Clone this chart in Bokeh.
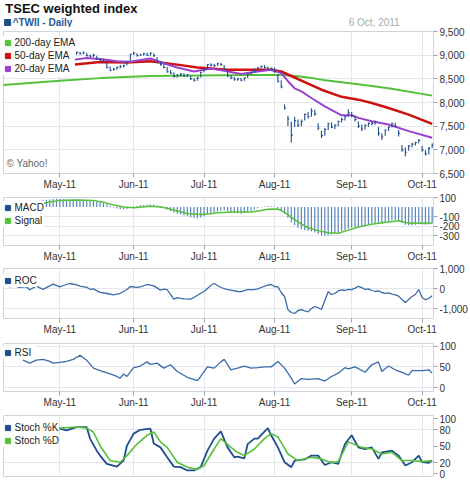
import numpy as np
import pandas as pd
from bokeh.plotting import figure
from bokeh.layouts import column
from bokeh.models import (Range1d, FixedTicker, Legend, LegendItem,
                          NumeralTickFormatter, Label)
from bokeh.embed import file_html
from bokeh.resources import INLINE
from bokeh.core.properties import value

FONT = "Liberation Sans"

# ---------------------------------------------------------------- calendar
# TWSE trading sessions, 7 Apr - 6 Oct 2011 (exchange closed 6 Jun and 12 Sep)
holidays = {"2011-06-06", "2011-09-12"}
dates = [d for d in pd.bdate_range("2011-04-07", "2011-10-06")
         if d.strftime("%Y-%m-%d") not in holidays]
idx = list(range(len(dates)))
month_ticks = [i for i in idx[1:] if dates[i].month != dates[i - 1].month]
month_labels = ["May-11", "Jun-11", "Jul-11", "Aug-11", "Sep-11", "Oct-11"]
month_overrides = {t: lab for t, lab in zip(month_ticks, month_labels)}

# ---------------------------------------------------------------- daily prices
close = [8880, 8850, 8900, 8780, 8720, 8700, 8740, 8690, 8620, 8750, 8820, 8830, 8860, 8880, 8900, 8920, 9010,
         9030, 9060, 9020, 9040, 9010, 9060, 9030, 9050, 8990, 8980, 9000, 8920, 8900, 8870, 8740, 8680, 8700,
         8740, 8760, 8780, 8860, 9020,
         9040, 8990, 9010, 9030, 9000, 9040, 8990, 8850, 8800, 8740, 8650, 8620, 8550, 8570, 8600, 8560, 8580,
         8500, 8470, 8520, 8640,
         8700, 8800, 8790, 8780, 8820, 8800, 8700, 8560, 8520, 8480, 8500, 8470, 8520, 8600, 8630, 8700, 8730,
         8760, 8740, 8710, 8720,
         8650, 8450, 8330, 7880, 7650, 7310, 7620, 7520, 7600, 7750, 7700, 7820, 7760, 7460, 7300, 7430, 7550,
         7480, 7520, 7600, 7640, 7700, 7780,
         7720, 7640, 7500, 7440, 7520, 7560, 7560, 7580, 7350, 7270, 7420, 7480, 7550, 7500, 7350, 7000, 6950,
         7080, 7120, 7150, 7200,
         7000, 6920, 7030, 7100]
high = [8920, 8900, 8930, 8880, 8790, 8750, 8770, 8760, 8700, 8760, 8830, 8860, 8880, 8900, 8930, 8950, 9020,
        9060, 9080, 9070, 9060, 9050, 9070, 9070, 9080, 9050, 9010, 9030, 8990, 8940, 8920, 8850, 8760, 8730,
        8760, 8790, 8800, 8870, 9030,
        9070, 9040, 9030, 9050, 9050, 9060, 9040, 8960, 8870, 8810, 8750, 8680, 8640, 8600, 8620, 8620, 8600,
        8570, 8520, 8540, 8650,
        8720, 8810, 8830, 8820, 8840, 8840, 8790, 8690, 8580, 8540, 8520, 8520, 8530, 8610, 8650, 8710, 8750,
        8780, 8790, 8760, 8740,
        8740, 8600, 8470, 7960, 7720, 7600, 7700, 7640, 7640, 7760, 7800, 7880, 7850, 7560, 7400, 7460, 7570,
        7580, 7540, 7620, 7680, 7720, 7860,
        7800, 7720, 7600, 7530, 7540, 7580, 7600, 7620, 7480, 7350, 7430, 7500, 7580, 7570, 7420, 7100, 7050,
        7100, 7150, 7170, 7230,
        7080, 6990, 7060, 7140]
low = [8840, 8820, 8850, 8760, 8700, 8660, 8690, 8680, 8600, 8650, 8760, 8800, 8820, 8840, 8870, 8890, 8930,
       8990, 9020, 9000, 9000, 8990, 9010, 9010, 9020, 8970, 8950, 8960, 8900, 8870, 8850, 8720, 8660, 8670,
       8690, 8720, 8740, 8780, 8880,
       9010, 8970, 8980, 8990, 8980, 8990, 8960, 8830, 8780, 8720, 8630, 8600, 8530, 8530, 8550, 8540, 8540,
       8480, 8440, 8460, 8530,
       8640, 8710, 8760, 8750, 8770, 8780, 8680, 8540, 8490, 8460, 8460, 8450, 8460, 8520, 8590, 8630, 8690,
       8720, 8720, 8690, 8680,
       8630, 8420, 8300, 7850, 7500, 7150, 7480, 7480, 7500, 7620, 7660, 7700, 7720, 7420, 7250, 7300, 7420,
       7460, 7440, 7500, 7580, 7620, 7700,
       7690, 7600, 7460, 7400, 7430, 7490, 7520, 7530, 7300, 7210, 7300, 7400, 7470, 7480, 7280, 6960, 6860,
       6980, 7050, 7090, 7140,
       6960, 6880, 6900, 7040]

# moving averages (trading-day index, level)
ema200_i = [0, 17, 29, 44, 59, 74, 83, 88, 92, 96, 106, 115, 128]
ema200_v = [8370, 8460, 8515, 8560, 8570, 8580, 8583, 8555, 8520, 8470, 8385, 8300, 8145]
ema50_i = [0, 10, 20, 29, 37, 44, 52, 58, 67, 80, 83, 86, 91, 95, 101, 106, 110, 115, 121, 128]
ema50_v = [8650, 8720, 8790, 8855, 8845, 8870, 8800, 8740, 8690, 8690, 8655, 8560, 8400, 8270, 8120, 8060,
           7990, 7885, 7745, 7550]
ema20_i = [0, 10, 20, 25, 29, 34, 38, 44, 48, 52, 57, 62, 66, 71, 76, 80, 83, 85, 87, 89, 92, 96, 101, 104,
           106, 110, 115, 121, 128]
ema20_v = [8760, 8770, 8890, 8940, 8920, 8870, 8860, 8930, 8830, 8740, 8655, 8720, 8670, 8600, 8655, 8690,
           8620, 8450, 8300, 8235, 8095, 7920, 7730, 7730, 7675, 7605, 7535, 7395, 7255]

# ---------------------------------------------------------------- MACD
macd = [20, 22, 25, 28, 30, 32, 35, 38, 44, 52, 60, 66, 72, 76, 80, 84, 86,
        84, 84, 82, 80, 79, 78, 77, 76, 75, 74, 72, 62, 52, 42, 28, 12, -5, -15, -22, -25, -20, -8,
        5, 12, 18, 22, 25, 28, 26, 18, 5, -10, -25, -40, -55, -68, -78, -88, -95, -105, -112, -115, -108,
        -95, -80, -65, -55, -45, -38, -35, -45, -55, -62, -65, -68, -62, -50, -38, -25, -12, -2, 5, 8, 10,
        5, -10, -30, -70, -110, -160, -190, -215, -230, -240, -250, -255, -265, -280, -295, -300, -295, -285,
        -275, -265, -250, -240, -225,
        -212, -205, -205, -200, -190, -180, -172, -165, -165, -170, -162, -150, -138, -135, -142, -165, -185,
        -190, -190, -185, -178,
        -180, -185, -180, -172]
signal_i = [0, 5, 9, 14, 17, 22, 27, 30, 32, 36, 39, 44, 47, 49, 52, 55, 59, 62, 64, 69, 74, 77, 79, 82, 84,
            87, 89, 91, 94, 97, 100, 103, 106, 109, 112, 115, 118, 120, 122, 128]
signal_v = [-25, -5, 18, 52, 70, 74, 70, 50, 29, 2, -6, 8, 0, -12, -40, -66, -78, -70, -60, -50, -50, -35, -22,
            -20, -55, -130, -175, -215, -245, -268, -272, -240, -208, -185, -168, -155, -142, -160, -168, -165]

# ---------------------------------------------------------------- ROC
roc_i = [0, 1, 2, 3, 5, 7, 8, 10, 12, 15, 17, 18, 20, 22, 23, 25, 26, 27, 29, 31, 33, 34, 35, 37, 38, 40, 41,
         43, 44, 45, 47, 48, 49, 50, 51, 52, 53, 54, 56, 57, 59, 60, 61, 62, 63, 64, 65, 67, 68, 70, 71, 73, 75,
         76, 77, 79, 80, 81, 82, 83, 84, 85, 86, 87, 88, 89, 90, 91, 92, 93, 94, 95, 96, 97, 98, 99, 100, 101,
         102, 103, 104, 105, 106, 107, 108, 109, 110, 111, 112, 113, 114, 115, 116, 117, 118, 119, 120, 121,
         122, 123, 124, 125, 126, 127, 128]
roc_v = [450, 300, 80, 150, 60, 100, -60, 120, -40, 220, 80, 150, 250, 180, 120, 60, -40, -20, -190, -250,
         -320, -280, -240, -50, 100, 60, 80, 200, 170, 130, -80, -30, -60, -300, -530, -460, -490, -520, -530,
         -450, -240, -150, 5, 150, 250, 150, 50, -60, -80, -150, -160, -60, -60, -20, 50, 170, 200, 100, 80,
         -200, -400, -1060, -1200, -1250, -1100, -1060, -1120, -1170, -1000, -900, -960, -1050, -600, -160,
         -300, -250, -120, -64, -100, -40, -60, 20, 110, 40, -40, -20, -100, -150, -120, -200, -240, -220, -280,
         -320, -380, -550, -700, -550, -400, -300, -50, -450, -560, -500, -360]

# ---------------------------------------------------------------- RSI
rsi_i = [6, 8, 10, 12, 14, 15, 17, 19, 21, 23, 25, 27, 29, 32, 34, 35, 36, 37, 39, 41, 43, 44, 46, 48, 50,
         52, 55, 58, 59, 61, 63, 65, 66, 68, 70, 72, 74, 76, 78, 80, 82, 84, 86, 87, 89, 91, 94, 96, 98, 100,
         102, 103, 105, 108, 110, 112, 113, 115, 117, 119, 121, 122, 125, 127, 128]
rsi_v = [66, 59, 66, 68, 63, 59, 61, 63, 68, 78, 66, 47, 41, 33, 27, 23, 33, 27, 48, 52, 62, 56, 59, 47, 55,
         39, 25, 17, 27, 50, 47, 62, 68, 43, 47, 52, 47, 48, 50, 50, 63, 47, 23, 9, 22, 20, 22, 16, 27, 35,
         48, 45, 50, 37, 55, 62, 39, 52, 43, 37, 30, 41, 41, 43, 35]

# ---------------------------------------------------------------- stochastics
stk_i = [0, 2, 5, 8, 11, 14, 17, 19, 22, 25, 26, 28, 29, 31, 34, 36, 37, 39, 41, 44, 45, 47, 49, 51, 53, 55,
         57, 59, 61, 63, 65, 67, 69, 70, 72, 73, 75, 76, 79, 80, 82, 84, 86, 87, 90, 92, 94, 96, 98, 100, 102,
         104, 106, 108, 110, 112, 113, 116, 118, 120, 122, 124, 125, 127, 128]
stk_v = [95, 92, 88, 84, 86, 83, 82, 79, 85, 85, 64, 42, 33, 18, 13, 24, 51, 73, 80, 82, 55, 48, 30, 13, 12, 6,
         6, 12, 42, 64, 77, 48, 30, 31, 28, 54, 64, 64, 83, 70, 48, 21, 12, 24, 26, 33, 33, 16, 21, 18, 54, 70,
         48, 45, 48, 27, 39, 42, 33, 15, 21, 33, 21, 20, 24]
std_i = [0, 3, 8, 13, 17, 22, 25, 27, 29, 32, 35, 37, 40, 43, 45, 47, 49, 52, 55, 58, 60, 63, 65, 68, 70, 72,
         75, 78, 80, 82, 85, 88, 92, 95, 98, 100, 103, 107, 110, 113, 116, 119, 122, 125, 128]
std_v = [85, 86, 84, 83, 83, 85, 83, 76, 51, 24, 21, 33, 54, 70, 76, 58, 48, 21, 12, 8, 15, 45, 64, 48, 39, 33,
         45, 64, 73, 67, 36, 24, 30, 27, 20, 22, 58, 48, 45, 36, 39, 24, 24, 22, 24]

# ---------------------------------------------------------------- styling
GRID = "#e3e8ef"
OUTLINE = "#cdd4de"
TICK = "#9aa3ae"
LABEL = "#333333"
BLUE = "#1f4e8c"
LINE_BLUE = "#3a6ca6"
GREEN = "#55c03a"
RED = "#cc1111"
PURPLE = "#9a40cf"

x_range = Range1d(0.2, 128.4)


def panel(height, top, bottom, y_lo, y_hi, yticks, grid_ticks=None, show_months=True):
    p = figure(width=470, height=height, x_range=x_range, y_range=Range1d(y_lo, y_hi),
               y_axis_location="right", output_backend="svg", toolbar_location=None,
               min_border_left=3, min_border_right=37, min_border_top=top, min_border_bottom=bottom)
    p.outline_line_color = OUTLINE
    xa = p.xaxis[0]
    xa.ticker = FixedTicker(ticks=month_ticks)
    xa.major_label_overrides = month_overrides
    xa.major_tick_in = 0
    xa.major_tick_out = 4
    xa.minor_tick_in = 0
    xa.minor_tick_out = 0
    xa.axis_line_color = None
    xa.major_tick_line_color = TICK
    xa.major_label_standoff = 1
    xa.major_label_text_font = FONT
    xa.major_label_text_font_size = "10px"
    xa.major_label_text_color = LABEL
    xa.visible = show_months
    ya = p.yaxis[0]
    ya.ticker = FixedTicker(ticks=yticks)
    ya.formatter = NumeralTickFormatter(format="0,0")
    ya.major_tick_in = 0
    ya.major_tick_out = 4
    ya.minor_tick_in = 0
    ya.minor_tick_out = 0
    ya.axis_line_color = None
    ya.major_tick_line_color = TICK
    ya.major_label_standoff = 2
    ya.major_label_text_font = FONT
    ya.major_label_text_font_size = "10px"
    ya.major_label_text_color = LABEL
    p.xgrid.ticker = FixedTicker(ticks=month_ticks)
    p.ygrid.ticker = FixedTicker(ticks=grid_ticks if grid_ticks is not None else yticks)
    p.xgrid.grid_line_color = GRID
    p.ygrid.grid_line_color = GRID
    return p


def add_legend(p, entries, vy):
    items = []
    for lab, col in entries:
        swatch = p.scatter(x=np.array([np.nan]), y=np.array([np.nan]), marker="square",
                           size=5, fill_color=col, line_color=col)
        items.append(LegendItem(label=lab, renderers=[swatch]))
    lg = Legend(items=items, location=(-2.5, vy), orientation="vertical", padding=1, spacing=0,
                margin=0, glyph_width=13, glyph_height=13, label_height=13, label_standoff=1,
                label_text_font=FONT, label_text_font_size="10px", label_text_color="#222222",
                background_fill_color="white", background_fill_alpha=1.0, border_line_color=None)
    p.add_layout(lg)


# ---------------------------------------------------------------- header
head = figure(width=470, height=27, x_range=Range1d(0, 470), y_range=Range1d(27, 0),
              x_axis_location=None, y_axis_location=None, output_backend="svg",
              toolbar_location=None, min_border=0)
head.grid.visible = False
head.outline_line_color = None
head.text(x=[2], y=[8], text=["TSEC weighted index"], text_font=value(FONT), text_font_size="13px",
          text_font_style="bold", text_baseline="middle", text_color="#111111")
head.scatter(x=[4.5], y=[22], marker="square", size=6, fill_color=BLUE, line_color=BLUE)
head.text(x=[10], y=[22], text=["^TWII - Daily"], text_font=value(FONT), text_font_size="10px",
          text_font_style="bold", text_baseline="middle", text_color="#2a5a94")
head.text(x=[433], y=[22], text=["6 Oct, 2011"], text_font=value(FONT), text_font_size="10px",
          text_baseline="middle", text_align="right", text_color="#aaaaaa")

# ---------------------------------------------------------------- price panel
main = panel(165, 4, 18, 6500, 9500, [6500, 7000, 7500, 8000, 8500, 9000, 9500])
main.line(ema200_i, ema200_v, line_color=GREEN, line_width=2)
main.line(ema50_i, ema50_v, line_color=RED, line_width=2.5)
main.line(ema20_i, ema20_v, line_color=PURPLE, line_width=2)
main.segment(x0=idx, y0=low, x1=idx, y1=high, line_color=BLUE, line_width=1.1)
main.segment(x0=idx, y0=close, x1=[i + 0.45 for i in idx], y1=close, line_color=BLUE, line_width=1.1)
main.add_layout(Label(x=3, y=5, x_units="screen", y_units="screen", text="© Yahoo!",
                      text_font=FONT, text_font_size="10px", text_color="#666666"))
add_legend(main, [("200-day EMA", GREEN), ("50-day EMA", RED), ("20-day EMA", PURPLE)], 98.5)

# ---------------------------------------------------------------- MACD panel
pm = panel(72, 5, 18, -400, 100, [-300, -200, -100, 100])
pm.segment(x0=idx, y0=[0] * len(idx), x1=idx, y1=macd, line_color="#5a86b8", line_width=1.2)
pm.line(signal_i, signal_v, line_color=GREEN, line_width=1.5)
add_legend(pm, [("MACD", BLUE), ("Signal", GREEN)], 18.2)

# ---------------------------------------------------------------- ROC panel
pr = panel(73, 4, 18, -1500, 1000, [-1000, 0, 1000])
pr.line(roc_i, roc_v, line_color=LINE_BLUE, line_width=1.3)
add_legend(pr, [("ROC", BLUE)], 30.8)

# ---------------------------------------------------------------- RSI panel
ps = panel(73, 6, 18, -9, 106, [0, 50, 100])
ps.line(rsi_i, rsi_v, line_color=LINE_BLUE, line_width=1.3)
add_legend(ps, [("RSI", BLUE)], 31.8)

# ---------------------------------------------------------------- stochastics panel
pk = panel(70, 5, 4, -5, 106, [0, 20, 50, 80, 100], grid_ticks=[20, 80], show_months=False)
pk.line(stk_i, stk_v, line_color=BLUE, line_width=1.8)
pk.line(std_i, std_v, line_color=GREEN, line_width=1.6)
add_legend(pk, [("Stoch %K", BLUE), ("Stoch %D", GREEN)], 28.8)

layout = column(head, main, pm, pr, ps, pk, spacing=0)
open("out.html", "w").write(file_html(layout, INLINE, "TSEC weighted index"))
